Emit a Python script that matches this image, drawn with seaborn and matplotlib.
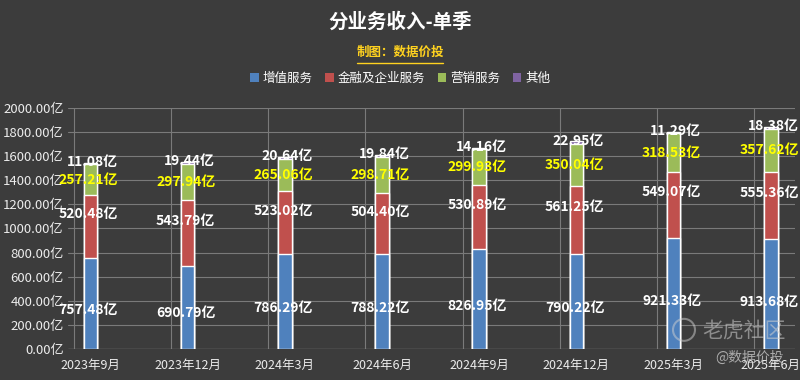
import matplotlib
matplotlib.use("Agg")
import matplotlib.pyplot as plt
import seaborn as sns
import numpy as np
import pandas as pd
from matplotlib.patches import Patch, Ellipse

categories = ["2023年9月", "2023年12月", "2024年3月", "2024年6月",
              "2024年9月", "2024年12月", "2025年3月", "2025年6月"]
vas = [757.48, 690.79, 786.29, 788.22, 826.95, 790.22, 921.33, 913.68]
fin = [520.48, 543.79, 523.02, 504.40, 530.89, 561.25, 549.07, 555.36]
mkt = [257.21, 297.94, 265.06, 298.71, 299.93, 350.04, 318.53, 357.62]
oth = [11.08, 19.44, 20.64, 19.84, 14.16, 22.95, 11.29, 18.38]
series_names = ["增值服务", "金融及企业服务", "营销服务", "其他"]
yticks = [0, 200, 400, 600, 800, 1000, 1200, 1400, 1600, 1800, 2000]

BG = "#3c3c3c"
colors = ["#4f81bd", "#c0504d", "#9bbb59", "#8064a2"]

sns.set_theme(style="dark")
plt.rcParams["font.family"] = ["Noto Sans CJK SC", "DejaVu Sans"]

fig = plt.figure(figsize=(8, 3.8), dpi=100, facecolor=BG)
ax = fig.add_axes([0.085, 0.0816, 0.909, 0.6342])
ax.set_facecolor(BG)

df = pd.DataFrame({"cat": categories, "vas": vas, "fin": fin, "mkt": mkt, "oth": oth})
df["c1"] = df["vas"]
df["c2"] = df["c1"] + df["fin"]
df["c3"] = df["c2"] + df["mkt"]
df["c4"] = df["c3"] + df["oth"]

for col, c in zip(["c4", "c3", "c2", "c1"], colors[::-1]):
    sns.barplot(data=df, x="cat", y=col, color=c, width=0.14, ax=ax,
                saturation=1, errorbar=None, zorder=3)

ax.set_xlim(-0.23, 7.25)
ax.set_ylim(0, 2000)
ax.set_yticks(yticks)
ax.set_yticklabels([f"{v:.2f}亿" for v in yticks], color="#ececec", fontsize=9.5)
ax.set_xticks(range(len(categories)))
ax.set_xticklabels(categories, color="#ececec", fontsize=9)
ax.set_xlabel("")
ax.set_ylabel("")
ax.tick_params(axis="both", length=0, pad=3)
ax.tick_params(axis="x", pad=7)
ax.set_xticks([i - 0.17 for i in range(len(categories))], minor=True)
ax.grid(False)
ax.grid(True, axis="y", which="major", color="#7a7a7a", linewidth=0.8, zorder=0)
ax.grid(True, axis="x", which="minor", color="#7a7a7a", linewidth=0.8, zorder=0)
for s in ax.spines.values():
    s.set_visible(False)
ax.axhline(0, color="#8a8a8a", linewidth=0.9, zorder=2)

for i in range(len(categories)):
    ax.text(i - 0.02, vas[i] * 0.43, f"{vas[i]:.2f}亿", color="white", fontsize=10,
            fontweight="bold", ha="center", va="center", zorder=5)
    ax.text(i - 0.02, vas[i] + fin[i] * 0.69, f"{fin[i]:.2f}亿", color="white", fontsize=10,
            fontweight="bold", ha="center", va="center", zorder=5)
    ax.text(i - 0.02, vas[i] + fin[i] + mkt[i] * 0.5, f"{mkt[i]:.2f}亿", color="#ffff00",
            fontsize=10, fontweight="bold", ha="center", va="center", zorder=5)
    ax.text(i + 0.02, vas[i] + fin[i] + mkt[i] + oth[i] + 5, f"{oth[i]:.2f}亿", color="white",
            fontsize=10, fontweight="bold", ha="center", va="center", zorder=5)

fig.text(0.5, 0.942, "分业务收入-单季", color="white", fontsize=14, fontweight="bold",
         ha="center", va="center")
fig.text(0.5, 0.862, "制图：数据价投", color="#ffd21f", fontsize=9, fontweight="bold",
         ha="center", va="center")
fig.add_artist(plt.Line2D([0.446, 0.554], [0.834, 0.834], color="#ffd21f", linewidth=1))

handles = [Patch(facecolor=c, edgecolor="none") for c in colors]
fig.legend(handles, series_names, loc="center", bbox_to_anchor=(0.5, 0.793), ncol=4,
           frameon=False, fontsize=9, labelcolor="white", handlelength=0.7,
           handleheight=0.7, handletextpad=0.3, columnspacing=1.0)

fig.add_artist(Ellipse((0.855, 0.132), 22 / 800, 22 / 380, transform=fig.transFigure,
                       fill=False, edgecolor="#d0d0d0", alpha=0.5, linewidth=1.5))
fig.text(0.93, 0.13, "老虎社区", color="#d0d0d0", alpha=0.55, fontsize=15,
         ha="center", va="center")
fig.text(0.937, 0.058, "@数据价投", color="#d0d0d0", alpha=0.75, fontsize=10,
         ha="center", va="center")

fig.savefig("out.png", dpi=100, facecolor=BG)
